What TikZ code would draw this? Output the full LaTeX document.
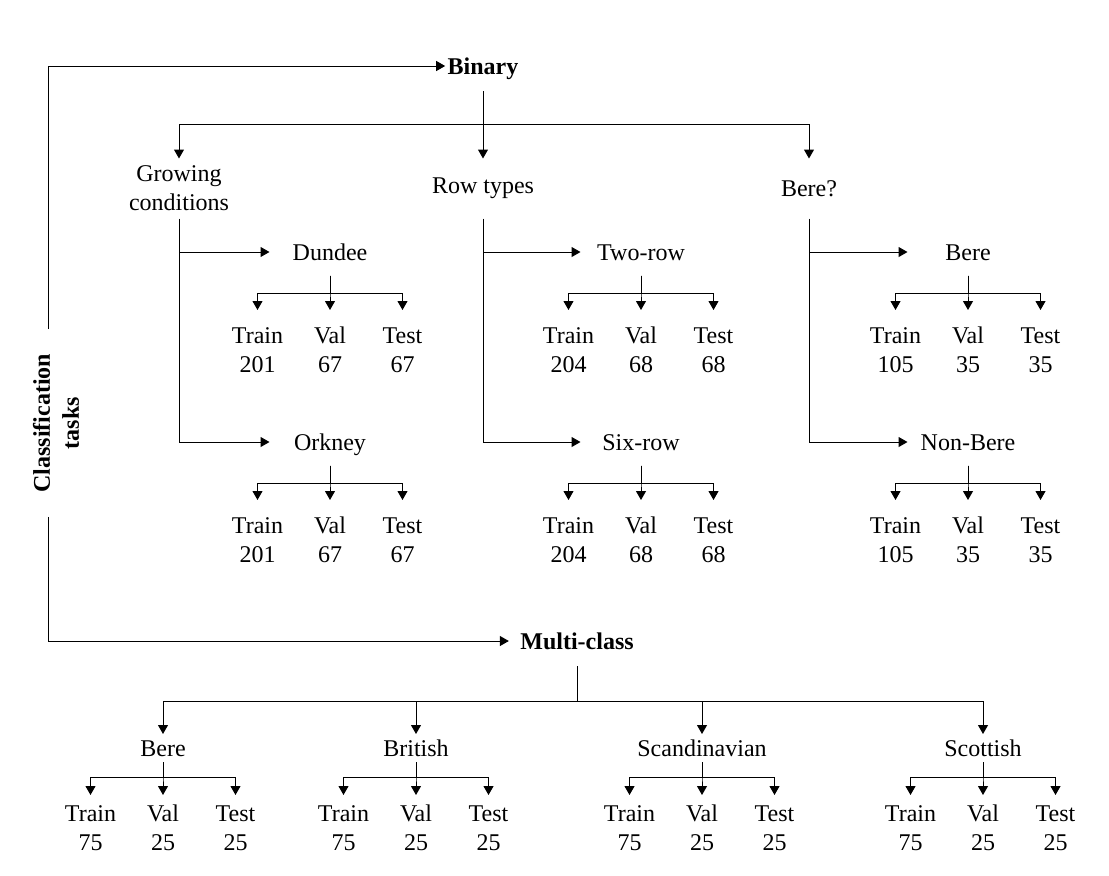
\documentclass[tikz,border=0pt]{standalone}
\usepackage{fontspec}
\setmainfont{Liberation Serif}
\usetikzlibrary{arrows.meta}
\tikzset{
  every node/.style={font=\fontsize{12}{14.5}\selectfont},
  task node/.style={font=\fontsize{12}{14.5}\selectfont\bfseries,inner xsep=1pt,inner ysep=0pt,text height=8pt,text depth=0pt,minimum height=24.5pt},
  group node/.style={align=center,inner sep=0pt,minimum height=29.5pt},
  class node/.style={inner sep=0pt,text height=8pt,text depth=0pt,minimum height=23pt,minimum width=60pt},
  low node/.style={class node,minimum height=13.5pt,minimum width=0pt},
  split node/.style={align=center,anchor=north,inner sep=0pt,text height=30.9pt,text depth=3pt},
  low split/.style={split node,text height=27.4pt}
}
\begin{document}
\begin{tikzpicture}[->,>={Triangle[length=4.5pt,width=5pt]},x=0.5pt,y=0.5pt,line width=0.5pt,
	      level 1/.style={sibling distance=36.25pt, level distance=29pt,
	        edge from parent path={(\tikzparentnode.south) -- ++(0,-9pt) -| (\tikzchildnode.north)}}
	    ]
        \useasboundingbox (0,0) rectangle (1109,-875);
        \node [task node] (bin) at (483,-66) {Binary};
        \node [task node,inner xsep=5.5pt] (mc) at (577,-641) {Multi-class};
        \node [rotate=90,align=center,font=\fontsize{12}{14.5}\selectfont\bfseries,inner xsep=12pt,inner ysep=0pt] (cls) at (56,-423) {Classification\\tasks};
        \draw ([xshift=-4pt]cls.east) |- (bin);
        \draw ([xshift=-4pt]cls.west) |- (mc);
        % binary
        \node [group node] (gc) at (179,-188.5) {Growing\\conditions};
        \node [group node] (rt) at (483,-188.5) {Row types};
        \node [group node] (bq) at (809,-188.5) {Bere?};
        \draw (bin) -- coordinate (bsplit) (rt);
        \draw (bsplit) -| (gc);
        \draw (bsplit) -| (bq);
        \node [class node] (dun) at (330,-252) {Dundee}
          child {node [split node] (dun1) {Train\\201}}
          child {node [split node] (dun2) {Val\\67}}
          child {node [split node] (dun3) {Test\\67}};
        \node [class node] (ork) at (330,-442) {Orkney}
          child {node [split node] (ork1) {Train\\201}}
          child {node [split node] (ork2) {Val\\67}}
          child {node [split node] (ork3) {Test\\67}};
        \node [class node] (two) at (641,-252) {Two-row}
          child {node [split node] (two1) {Train\\204}}
          child {node [split node] (two2) {Val\\68}}
          child {node [split node] (two3) {Test\\68}};
        \node [class node] (six) at (641,-442) {Six-row}
          child {node [split node] (six1) {Train\\204}}
          child {node [split node] (six2) {Val\\68}}
          child {node [split node] (six3) {Test\\68}};
        \node [class node] (bere) at (968,-252) {Bere}
          child {node [split node] (bere1) {Train\\105}}
          child {node [split node] (bere2) {Val\\35}}
          child {node [split node] (bere3) {Test\\35}};
        \node [class node] (nbere) at (968,-442) {Non-Bere}
          child {node [split node] (nbere1) {Train\\105}}
          child {node [split node] (nbere2) {Val\\35}}
          child {node [split node] (nbere3) {Test\\35}};
        \draw (gc) |- (ork);
        \draw (gc.south |- dun) -- (dun);
        \draw (rt) |- (six);
        \draw (rt.south |- two) -- (two);
        \draw (bq) |- (nbere);
        \draw (bq.south |- bere) -- (bere);
        % multi-class
        \begin{scope}[level 1/.style={sibling distance=36.25pt, level distance=23.5pt,
	        edge from parent path={(\tikzparentnode.south) -- ++(0,-7.75pt) -| (\tikzchildnode.north)}}]
        \node [low node] (mbe) at (163,-748) {Bere}
          child {node [low split] (mbe1) {Train\\75}}
          child {node [low split] (mbe2) {Val\\25}}
          child {node [low split] (mbe3) {Test\\25}};
        \node [low node] (bri) at (416,-748) {British}
          child {node [low split] (bri1) {Train\\75}}
          child {node [low split] (bri2) {Val\\25}}
          child {node [low split] (bri3) {Test\\25}};
        \node [low node] (sca) at (702,-748) {Scandinavian}
          child {node [low split] (sca1) {Train\\75}}
          child {node [low split] (sca2) {Val\\25}}
          child {node [low split] (sca3) {Test\\25}};
        \node [low node] (sco) at (983,-748) {Scottish}
          child {node [low split] (sco1) {Train\\75}}
          child {node [low split] (sco2) {Val\\25}}
          child {node [low split] (sco3) {Test\\25}};
        \end{scope}
        \coordinate (msplit) at (mc.south |- 0,-701);
        \draw [-] (mc) -- (msplit);
        \foreach \n in {mbe,bri,sca,sco}
          \draw (msplit) -| (\n);
      \end{tikzpicture}
\end{document}
